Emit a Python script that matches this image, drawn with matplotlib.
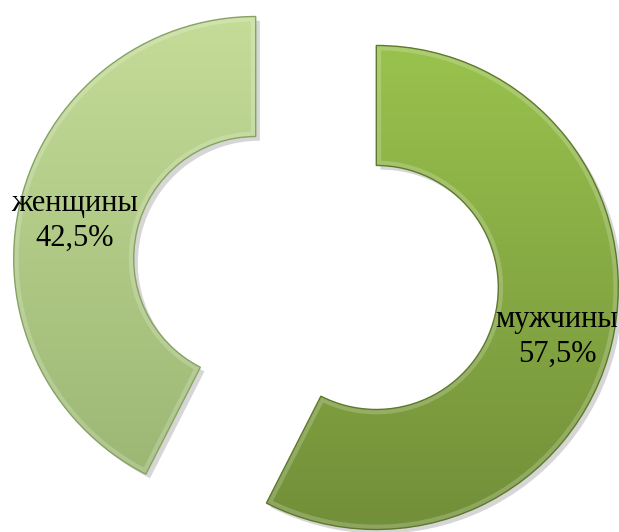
import numpy as np
import matplotlib.pyplot as plt
from matplotlib.colors import LinearSegmentedColormap
from matplotlib.patches import Wedge
from matplotlib import patheffects as pe

# data
labels = ["мужчины", "женщины"]
shares = [57.5, 42.5]

# styling
top_colors = ["#99c24d", "#c4dc98"]
bottom_colors = ["#728f39", "#9ab572"]
edge_colors = ["#5d7a2c", "#86a362"]

plt.rcParams["font.family"] = ["Liberation Serif", "DejaVu Serif"]

W, H = 619, 532
fig = plt.figure(figsize=(W / 100, H / 100), dpi=100)
ax = fig.add_axes([0, 0, 1, 1])

radius = 242
ring = 120
wedges, _ = ax.pie(
    shares,
    startangle=90,
    counterclock=False,
    radius=radius,
    center=(316, 259),
    explode=[62, 62],
    wedgeprops=dict(width=ring, linewidth=0),
)

grad = np.linspace(0, 1, 256).reshape(-1, 1)
for i, w in enumerate(wedges):
    w.set_facecolor(bottom_colors[i])
    w.set_path_effects([
        pe.SimplePatchShadow(offset=(3, -3), shadow_rgbFace="black", alpha=0.16),
        pe.Normal(),
    ])
    cx, cy = w.center
    cmap = LinearSegmentedColormap.from_list(f"g{i}", [bottom_colors[i], top_colors[i]])
    img = ax.imshow(grad, cmap=cmap, origin="lower", aspect="auto",
                    extent=(cx - radius, cx + radius, cy - radius, cy + radius),
                    zorder=w.get_zorder() + 0.1)
    img.set_clip_path(w)

    # bevel: light inner band and a darker rim
    hl = Wedge((cx, cy), radius, w.theta1, w.theta2, width=ring,
               facecolor="none", edgecolor="white", linewidth=7, alpha=0.2,
               zorder=w.get_zorder() + 0.2)
    ax.add_patch(hl)
    hl.set_clip_path(w)
    rim = Wedge((cx, cy), radius, w.theta1, w.theta2, width=ring,
                facecolor="none", edgecolor=edge_colors[i], linewidth=1.0,
                zorder=w.get_zorder() + 0.3)
    ax.add_patch(rim)

    mid = np.deg2rad((w.theta1 + w.theta2) / 2)
    rr = radius - ring / 2 + 4
    tx = cx + rr * np.cos(mid)
    ty = cy + rr * np.sin(mid) - 6
    txt = f"{labels[i]}\n{shares[i]:.1f}%".replace(".", ",")
    ax.text(tx, ty, txt, ha="center", va="center", fontsize=22,
            linespacing=1.25, color="black", zorder=10)

ax.set_xlim(0, W)
ax.set_ylim(0, H)
ax.set_aspect("equal")
ax.axis("off")

fig.savefig("out.png", dpi=100, facecolor="white")
